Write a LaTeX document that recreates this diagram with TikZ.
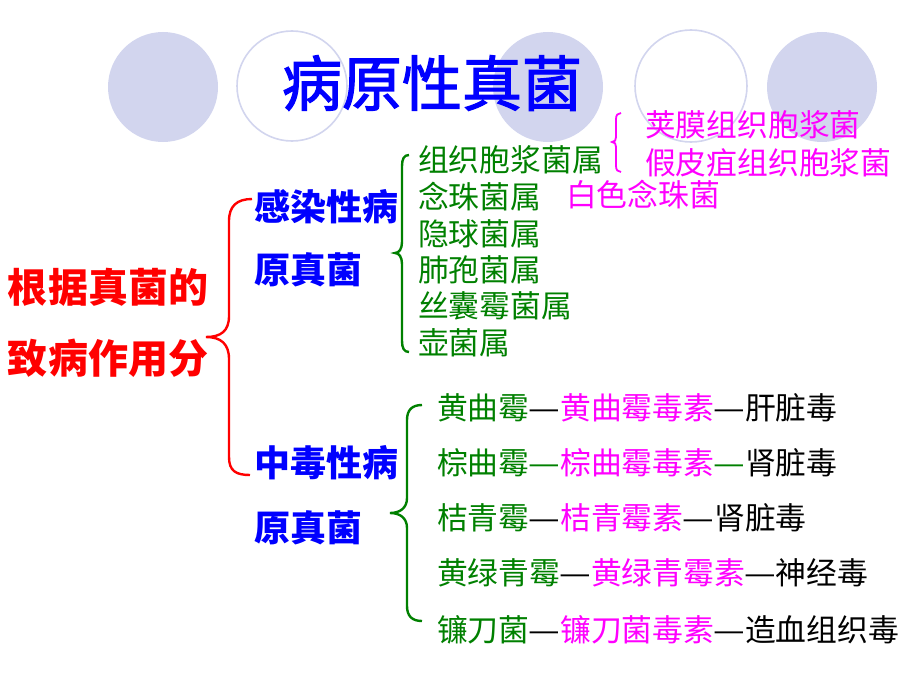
\documentclass[tikz,border=0pt]{standalone}
\usepackage{fontspec}
\setmainfont{Noto Sans CJK SC}
\newfontfamily\titlefont{Noto Sans CJK SC}[FakeBold=2]
\newcommand{\dsh}{\makebox[1em][c]{\scalebox{1.15}[1]{—}}}
\definecolor{lav}{RGB}{210,213,238}
\definecolor{grn}{RGB}{0,128,0}
\definecolor{mag}{RGB}{255,0,255}
\definecolor{blu}{RGB}{0,0,255}
\definecolor{rd}{RGB}{255,0,0}
\begin{document}
\begin{tikzpicture}[x=1pt,y=-1pt,
  fillc/.style={fill=lav,draw=none},
  ringc/.style={draw=lav,line width=1.6pt,fill=white},
  base/.style={anchor=west,inner sep=0pt,outer sep=0pt},
  titletxt/.style={inner sep=0pt,text=blu,font=\titlefont\fontsize{60}{60}\selectfont},
  redtxt/.style={base,text=rd,font=\fontsize{40}{40}\selectfont\bfseries},
  bluetxt/.style={base,text=blu,font=\fontsize{36}{36}\selectfont\bfseries},
  grntxt/.style={base,text=grn,font=\fontsize{30.8}{30.8}\selectfont},
  magtxt/.style={base,text=mag,font=\fontsize{30.8}{30.8}\selectfont},
  linetxt/.style={base,text=black,font=\fontsize{30.8}{30.8}\selectfont},
  redbrace/.style={draw=rd,line width=2.4pt},
  grnbrace/.style={draw=grn,line width=2.4pt},
  magbrace/.style={draw=mag,line width=1.8pt}]
\useasboundingbox (0,0) rectangle (920,690);
% decorative circles
\fill[lav] (163,87) circle (55);
\draw[ringc] (292,86) circle (55);
\fill[lav] (548,87) circle (55);
\draw[ringc] (691,86) circle (56);
\fill[lav] (822,87) circle (55);
% title
\node[titletxt] (title) at (432,83) {病原性真菌};
% left labels
\node[redtxt] (r1) at (8,287) {根据真菌的};
\node[redtxt] (r2) at (8,358) {致病作用分};
\node[bluetxt] (b1) at (254,207) {感染性病};
\node[bluetxt] (b2) at (254,270) {原真菌};
\node[bluetxt] (b3) at (254,463) {中毒性病};
\node[bluetxt] (b4) at (254,528) {原真菌};
% red brace
\draw[redbrace] (252,199) .. controls (237,199) and (229,206) .. (229,221) -- (229,316)
  .. controls (229,331) and (221,337) .. (206,337)
  .. controls (221,337) and (229,344) .. (229,359) -- (229,457)
  .. controls (229,471) and (236,475) .. (250,475);
% green brace (top)
\draw[grnbrace] (409,155) .. controls (404,155) and (402,159) .. (402,166) -- (402,242)
  .. controls (402,249) and (399,253) .. (395,253)
  .. controls (399,253) and (402,257) .. (402,264) -- (402,341)
  .. controls (402,348) and (404,352) .. (409,352);
% top list
\node[grntxt] (g1) at (418,160) {组织胞浆菌属};
\node[grntxt] (g2) at (418,197) {念珠菌属};
\node[grntxt] (g3) at (418,234) {隐球菌属};
\node[grntxt] (g4) at (418,270) {肺孢菌属};
\node[grntxt] (g5) at (418,306) {丝囊霉菌属};
\node[grntxt] (g6) at (418,343) {壶菌属};
% magenta brace
\draw[magbrace] (621,113) .. controls (618,113) and (616,115) .. (616,119) -- (616,137)
  .. controls (616,140) and (615,142) .. (612,142)
  .. controls (615,142) and (616,144) .. (616,147) -- (616,166)
  .. controls (616,170) and (618,172) .. (621,172);
\node[magtxt] (m1) at (645,125) {荚膜组织胞浆菌};
\node[magtxt] (m2) at (645,163) {假皮疽组织胞浆菌};
\node[magtxt] (m3) at (566,195) {白色念珠菌};
% green brace (bottom)
\draw[grnbrace] (422,405) .. controls (412,405) and (407,410) .. (407,420) -- (407,498)
  .. controls (407,508) and (400,513) .. (390,513)
  .. controls (400,513) and (407,518) .. (407,528) -- (407,606)
  .. controls (407,616) and (412,621) .. (422,621);
% bottom list
\node[linetxt] (l1) at (437,408) {\textcolor{grn}{黄曲霉}\dsh\textcolor{mag}{黄曲霉毒素}\dsh 肝脏毒};
\node[linetxt] (l2) at (437,463) {\textcolor{grn}{棕曲霉\dsh}\textcolor{mag}{棕曲霉毒素}\textcolor{grn}{\dsh}肾脏毒};
\node[linetxt] (l3) at (437,518) {\textcolor{grn}{桔青霉}\dsh\textcolor{mag}{桔青霉素}\dsh 肾脏毒};
\node[linetxt] (l4) at (437,573) {\textcolor{grn}{黄绿青霉}\dsh\textcolor{mag}{黄绿青霉素}\dsh 神经毒};
\node[linetxt] (l5) at (437,630) {\textcolor{grn}{镰刀菌}\dsh\textcolor{mag}{镰刀菌毒素}\dsh 造血组织毒};
\end{tikzpicture}
\end{document}
